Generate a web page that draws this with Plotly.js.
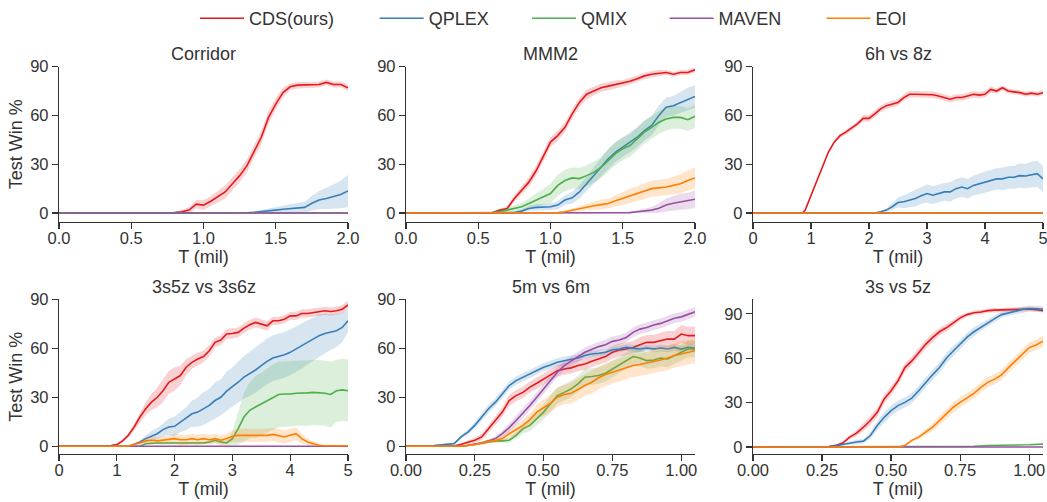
<!DOCTYPE html>
<html>
<head>
<meta charset="utf-8">
<script src="https://cdn.plot.ly/plotly-3.0.1.min.js"></script>
<style>html,body{margin:0;padding:0;background:#fff;}#chart{width:1047px;height:502px;}</style>
</head>
<body>
<div id="chart"></div>
<script>
// ---------------- DATA ----------------
const algNames = ['CDS(ours)', 'QPLEX', 'QMIX', 'MAVEN', 'EOI'];
const panelTitles = ['Corridor', 'MMM2', '6h vs 8z', '3s5z vs 3s6z', '5m vs 6m', '3s vs 5z'];
const yTickVals = [0, 30, 60, 90];

// Corridor
const corT = [0,0.1,0.2,0.3,0.4,0.5,0.6,0.7,0.75,0.8,0.85,0.9,0.95,1.0,1.05,1.1,1.15,1.2,1.25,1.3,1.35,1.4,1.45,1.5,1.55,1.6,1.65,1.7,1.75,1.8,1.85,1.9,1.95,2.0];
const corCDS = [0,0,0,0,0,0,0,0,0.1,0.3,0.8,1.8,5.5,4.9,7.3,10,13,18,23,29,37.5,46.6,58.8,67,74,77.6,78.6,78.6,78.6,79,80.3,79,79,77];
const corCDSsd = [0,0,0,0,0,0,0,0,0.2,0.5,1,2,2.5,3,3,3.5,4,4,4,4,4,4,4,3.5,3,2,2,1.8,1.8,1.8,1.8,1.8,1.8,1.8];
const corQPLEX = [0,0,0,0,0,0,0,0,0,0,0,0,0,0,0,0,0,0,0,0.2,0.5,0.8,1.3,1.8,2.3,2.8,3.2,3.5,6,8,9,10,11.4,13.6];
const corQPLEXsd = [0,0,0,0,0,0,0,0,0,0,0,0,0,0,0,0,0,0,0,0.3,0.6,1,1.5,2,2.4,2.6,3,3.5,4.5,5.6,6.5,7.5,8.5,9.8];
const corFlatT = [0, 2.0];
const corQMIX = [0, 0];
const corMAVEN = [0, 0];

// MMM2
const mmmT = [0,0.1,0.2,0.3,0.4,0.5,0.55,0.6,0.65,0.7,0.75,0.8,0.85,0.9,0.95,1.0,1.05,1.1,1.15,1.2,1.25,1.3,1.35,1.4,1.45,1.5,1.55,1.6,1.65,1.7,1.75,1.8,1.85,1.9,1.95,2.0];
const mmmCDS = [0,0,0,0,0,0,0,0.3,1.8,2.8,9,14,19,26,34.4,43.6,47.6,52.7,61,68,73,75,77,78,79,79.8,81,82.6,84.3,85.3,86,86.4,85.3,86.4,86.4,88];
const mmmCDSsd = [0,0,0,0,0,0,0,0.5,1,1.5,2,2.5,3,3,3,3,3,3,3,3,3,3,2.5,2.5,2.5,2,2,2,2,2,2,1.5,1.5,1.5,1.5,1.5];
const mmmQPLEX = [0,0,0,0,0,0,0,0,0,0,0.3,1.2,2.8,3.5,3.5,3.9,4.9,8,9.4,13,18,23,28,33.4,37.5,40.5,43.6,46.6,50.7,53.8,59.9,65,66,68,70,71.7];
const mmmQPLEXsd = [0,0,0,0,0,0,0,0,0,0,0.5,1,1.5,2,2,2,2.5,3,3.5,4,4.5,5,5.5,6,6,6,6,6,6,6,6,6,6,6.5,7,7];
const mmmQMIX = [0,0,0,0,0,0,0,0.3,0.8,1.8,2.8,3.9,5.9,8,10,12,17,20,21.6,21.2,23,25,28,32.4,36.5,39.5,41.5,45.6,49.7,52.7,55.8,57.8,58.8,58.8,57.4,59.5];
const mmmQMIXsd = [0,0,0,0,0,0,0,0.5,1,1.5,2,2.5,3,4,5,6,6.5,6.6,6.5,6.5,6.5,6.5,6.5,7,7,7,7,7,7,7,7,7,7,7,7,7];
const mmmMAVEN = [0,0,0,0,0,0,0,0,0,0,0,0,0,0,0,0,0,0,0,0,0,0,0,0,0,0,0.3,0.8,1.2,1.8,3,4.9,6,6.9,7.5,8.5];
const mmmMAVENsd = [0,0,0,0,0,0,0,0,0,0,0,0,0,0,0,0,0,0,0,0,0,0,0,0,0,0,0.5,1,1.5,2,3,4,4.5,5,5,5.5];
const mmmEOI = [0,0,0,0,0,0,0,0,0,0,0,0,0,0,0,0,0.3,0.8,1.8,2.8,3.7,4.5,5.2,5.9,7.5,9,10.5,12,13.5,15,15.5,16,17,18,20,21.6];
const mmmEOIsd = [0,0,0,0,0,0,0,0,0,0,0,0,0,0,0,0,0.3,0.5,1,1.5,2,2.5,3,3,3.5,4,4.5,4.5,5,5,5,5,5.5,6,6,6.5];

// 6h vs 8z
const h6T = [0,0.2,0.4,0.6,0.8,0.85,0.9,1.0,1.1,1.2,1.3,1.4,1.5,1.6,1.7,1.8,1.9,2.0,2.1,2.2,2.3,2.4,2.5,2.6,2.7,2.8,2.9,3.0,3.1,3.2,3.3,3.4,3.5,3.6,3.7,3.8,3.9,4.0,4.1,4.2,4.3,4.4,4.5,4.6,4.7,4.8,4.9,5.0];
const h6CDS = [0,0,0,0,0,0,1.8,11,19,28.3,37.5,43.6,47.6,49.7,52,54.8,58.2,58.2,61,64,66,67,68,71,73,73,73,73,72.7,72,71,70,71,71,72,73,72.5,73,76,75,77,75,74.5,74,73,73.7,73,74];
const h6CDSsd = [0,0,0,0,0,0,0.5,1,1,1,1,1,1.5,1.5,1.5,1.5,2,2,2,2,2,2,2,2,2,2,2,2,2,2,2,2,2,2,2,2,2,2,2,1.5,1.5,1.5,1.5,1.5,1.5,1.5,1.5,1.5];
const h6QPLEX = [0,0,0,0,0,0,0,0,0,0,0,0,0,0,0,0,0,0,0,0.8,1.8,3.9,6.5,6.9,8,9,10.6,12,11,12,13,13,15,16,15,17,18,19,20,21,21,22,22,23,22.8,23.6,24.2,21];
const h6QPLEXsd = [0,0,0,0,0,0,0,0,0,0,0,0,0,0,0,0,0,0,0,0.5,1,2,3,4,4.5,5,5,5.5,5.5,5.5,5.5,6,6,6,6,6,6.5,6.5,6.5,6.5,7,7,7,7.5,7.5,8,8,8];
const h6FlatT = [0, 5];
const h6QMIX = [0, 0];
const h6MAVEN = [0, 0];
const h6EOI = [0, 0];

// 3s5z vs 3s6z
const s5T = [0,0.2,0.4,0.6,0.8,0.9,1.0,1.1,1.2,1.3,1.4,1.5,1.6,1.7,1.8,1.9,2.0,2.1,2.2,2.3,2.4,2.5,2.6,2.7,2.8,2.9,3.0,3.1,3.2,3.3,3.4,3.5,3.6,3.7,3.8,3.9,4.0,4.1,4.2,4.3,4.4,4.5,4.6,4.7,4.8,4.9,5.0];
const s5CDS = [0,0,0,0,0.2,0.5,1,3.3,6.7,11.8,17.9,23,27,30,34,39.2,41.2,43.3,48.4,51.4,53.4,54.9,58.5,63.6,65,68.7,69,69.7,72.3,74.4,75.8,74.8,73.7,76.8,76.8,77.8,79.8,79.8,81.3,81.3,81.9,82.5,82.9,82.5,82.9,83.9,86.5];
const s5CDSsd = [0,0,0,0,0.2,0.3,0.5,1,1.5,2,3,4,5,6,7,7,7,6,5,4,4,3.5,3.5,3,3,3,3,3,3,3,3,3,3,2.5,2.5,2.5,2.5,2.5,2.5,2.5,2.5,2.5,2.5,2.5,2.5,2.5,2.5];
const s5QPLEX = [0,0,0,0,0,0,0,0,0,1.2,2.6,4.7,6.3,7.7,10.2,11.8,12.2,14.8,16.9,19.9,20.9,23,25,28,30,33.7,36.2,39.2,42.3,44.3,46.7,49.4,52,54,54.9,56,57.5,59.5,61.6,63.6,65.6,67.7,69,69.7,70.7,72.7,76.8];
const s5QPLEXsd = [0,0,0,0,0,0,0,0,0,0.5,1,2,3,3.5,4,5,6,6,7,8,9,10,10,11,11,12,12,12.5,13,13.5,14,14,14,14,14,14,14,14,14,13.5,13,13,12,11,10,9,7];
const s5QMIX = [0,0,0,0,0,0,0,0,0,0,0,1.6,2,2,2,2,2,2,2,2,2,2,2.6,3.7,2.6,2,4.7,10.8,17.9,22,24,26,28,30,31.7,32,32,32.5,32.5,32.7,33,32.7,32.5,31.7,34,34.5,34];
const s5QMIXsd = [0,0,0,0,0,0,0,0,0,0,0,0.5,1,1,1,1,1,1,1,1,1,1,1,1.5,1.5,1.5,4,10,15,17,19,19,19.5,20,20,20,20,20,20,20,20,20,20,20,19,19,19];
const s5MAVEN = [0, 0];
const s5FlatT = [0, 5];
const s5EOI = [0,0,0,0,0,0,0,0,0,1.2,2,3.3,3.7,3.3,3.7,4,4.7,4,4,4.7,4,4.7,4,4.7,3.7,4.7,6,6.7,6.7,6.7,6.3,6.7,6.7,7.3,6.7,5.7,6.7,7.7,4.7,2.6,1.6,0.6,0.3,0.3,0.3,0.3,0.3];
const s5EOIsd = [0,0,0,0,0,0,0,0,0,0.5,1,1.5,2,2,2.5,2.5,3,3,3,3,3,3,3,3,3,3,3.5,4,4,4,4,4,4,4,4,4,4,4,3,2,1.5,1,0.5,0.5,0.5,0.5,0.5];

// 5m vs 6m
const m5T = [0,0.05,0.1,0.125,0.15,0.175,0.2,0.225,0.25,0.275,0.3,0.325,0.35,0.375,0.4,0.425,0.45,0.475,0.5,0.525,0.55,0.575,0.6,0.625,0.65,0.675,0.7,0.725,0.75,0.775,0.8,0.825,0.85,0.875,0.9,0.925,0.95,0.975,1.0,1.025,1.05];
const m5CDS = [0,0,0,0,0,0.2,1.2,2.6,3.7,5.7,10.8,15.8,20.9,28,31,33,36.2,38.6,41.2,43.9,46.3,47.3,48,49.4,50.4,52,53.4,54.9,57.5,58.9,59.5,60.5,62.2,63.6,63.6,64.6,65.6,65.6,68.7,67.7,67.7];
const m5CDSsd = [0,0,0,0,0,0.3,0.5,1,1.5,2,2.5,3,3,3.5,3.5,3.5,3.5,3.5,3.5,3.5,3.5,3.5,3.5,3.5,3.5,3.5,3.5,3.5,4,4,4,4,4.5,4.5,4.5,5,5,5,5.5,5.5,5.5];
const m5QPLEXT = [0.1,0.125,0.15,0.175,0.2,0.225,0.25,0.275,0.3,0.325,0.35,0.375,0.4,0.425,0.45,0.475,0.5,0.525,0.55,0.575,0.6,0.625,0.65,0.675,0.7,0.725,0.75,0.775,0.8,0.825,0.85,0.875,0.9,0.925,0.95,0.975,1.0,1.025,1.05];
const m5QPLEX = [0.5,0.8,1.2,1.6,5.7,8.7,12.8,17.9,23,27,32,37.2,40.2,42.3,44.3,46.3,48.4,49.8,51.4,52.4,53.4,54,55.5,56.5,56.9,57.5,59.1,59.5,60.5,60.1,59.5,60.1,59.5,60.1,59.5,60.5,59.5,60.5,60.1];
const m5QPLEXsd = [0.2,0.3,0.5,0.5,1,1.5,2,2,2.5,2.5,2.5,2.5,2.5,2.5,2.5,2.5,2.5,2.5,2.5,2.5,2,2,2,2,2,2,2,2,2,2,2,2,2,2,2,2,2,2,2];
const m5QMIX = [0,0,0,0,0,0,0,0.5,1.2,2,3,3.3,3.3,3.7,6.7,10.8,12.8,16.9,20.9,26,31,33,35.1,38.2,42.3,42.7,43.3,44.7,47.3,49.4,52,54.9,54,52.4,52.8,54,53.4,55.5,57.5,59.5,59.5];
const m5QMIXsd = [0,0,0,0,0,0,0,0.3,0.5,1,1,1,1,1.5,2,3,3.5,4,4.5,5,5,5,5,5,5,5,5,5,5,5,5,5,5,5,5,5,5,5,5,5,5];
const m5MAVEN = [0,0,0,0,0,0,0,0.6,1.2,2,3.3,4.7,7.7,11.4,15.8,20.3,25,30,35.1,40.2,45.3,49.4,52.4,54.9,57.5,59.5,61,62.2,64.2,65,66.6,69.7,71.7,72.7,74.2,75.2,76.8,78.4,79.2,80.9,82.3];
const m5MAVENsd = [0,0,0,0,0,0,0,0.3,0.5,0.8,1,1.5,2,2.5,3,3,3,3,3,3,3,3,3,3,3,3,3,3,3,3,3,3,3,3,3,3,3,3,3,3,3];
const m5EOI = [0,0,0,0,0,0,0,0.5,1,2,3,3.5,4.7,7.7,10.2,12.8,16.3,20.9,23.6,26.4,30,31.7,32.5,35.1,37.2,39.2,41.9,43.9,45.3,46.7,48.4,49.4,50,50.8,52,52.8,54,55.5,56.5,57.5,58.5];
const m5EOIsd = [0,0,0,0,0,0,0,0.3,0.5,1,1,1.5,2,2.5,3,3.5,4,4.5,5,5.5,6,6,6.5,6.5,6.5,7,7,7,7,7,7,7,7,7,7.5,7.5,7.5,7.5,7.5,7.5,7.5];

// 3s vs 5z
const z5T = [0,0.1,0.2,0.25,0.275,0.3,0.325,0.35,0.375,0.4,0.425,0.45,0.475,0.5,0.525,0.55,0.575,0.6,0.625,0.65,0.675,0.7,0.725,0.75,0.775,0.8,0.825,0.85,0.875,0.9,0.925,0.95,0.975,1.0,1.025,1.05];
const z5CDS = [0,0,0,0,0.3,1.1,2.7,6.7,9.4,13.4,17.9,23.5,32.5,38,44.8,53.7,58.2,63.8,69.4,73.9,77.9,80.6,83.9,87.3,89.5,90.7,91.3,92.2,92.5,92.7,92.9,93.1,93.3,93.3,92.9,92.2];
const z5CDSsd = [0,0,0,0,0.3,0.5,1,1.5,2,2.5,3,3,3,3,3,3,3,3,3,3,2.5,2.5,2,2,1.5,1.5,1.5,1.5,1.5,1.5,1.5,1.5,1.5,1.5,1.5,1.5];
const z5QPLEX = [0,0,0,0,0.3,0.9,1.8,2.7,3.4,4,7.8,14.5,20.1,24.6,28,30.2,33.1,38,43.7,48.8,53.7,60,64.9,69.4,74.3,77.9,81,83.9,86.8,89.5,90.7,91.8,92.9,93.6,93.6,93.3];
const z5QPLEXsd = [0,0,0,0,0.3,0.5,0.8,1,1.5,1.5,2,3,3.5,3.5,3.5,3.5,3.5,3.5,3.5,3.5,3.5,3.5,3.5,3,3,3,2.5,2.5,2.5,2,2,2,2,2,2,2];
const z5QMIXT = [0,0.75,0.8,0.85,0.9,0.95,1.0,1.05];
const z5QMIX = [0,0,0.5,1,1,1.2,1.5,2];
const z5FlatT = [0, 1.05];
const z5MAVEN = [0, 0];
const z5EOI = [0,0,0,0,0,0,0,0,0,0,0,0,0,0,0,1.1,4.5,6.7,10,13.4,17.9,22.4,26.9,30.2,33.1,36.3,40.3,43.7,45.9,48.8,53.7,58.2,62.7,67.2,69,71.6];
const z5EOIsd = [0,0,0,0,0,0,0,0,0,0,0,0,0,0,0,0.5,1,1.5,2,2.5,3,3,3.5,3.5,3.5,3.5,3.5,3.5,3.5,3.5,3.5,3.5,3.5,3.5,3.5,4];

// ---------------- STYLE ----------------
const colors = {'CDS(ours)':'#e41a1c', 'QPLEX':'#377eb8', 'QMIX':'#4daf4a', 'MAVEN':'#984ea3', 'EOI':'#ff7f00'};
const bands = {'CDS(ours)':'rgba(228,26,28,0.2)', 'QPLEX':'rgba(55,126,184,0.2)', 'QMIX':'rgba(77,175,74,0.2)', 'MAVEN':'rgba(152,78,163,0.2)', 'EOI':'rgba(255,127,0,0.2)'};
const legendIds = {'CDS(ours)':'legend', 'QPLEX':'legend2', 'QMIX':'legend3', 'MAVEN':'legend4', 'EOI':'legend5'};
const FONT = 'Liberation Sans, Arial, Helvetica, sans-serif';
const TXT = '#333333';

const traces = [];
function addSeries(panel, name, xs, mean, sd, showLegend) {
  const xa = panel === 1 ? 'x' : 'x' + panel;
  const ya = panel === 1 ? 'y' : 'y' + panel;
  if (sd) {
    const up = mean.map((v, i) => v + sd[i]);
    const lo = mean.map((v, i) => v - sd[i]);
    traces.push({x: xs, y: up, xaxis: xa, yaxis: ya, mode: 'lines', line: {width: 0, color: bands[name]}, showlegend: false, hoverinfo: 'skip'});
    traces.push({x: xs, y: lo, xaxis: xa, yaxis: ya, mode: 'lines', line: {width: 0, color: bands[name]}, fill: 'tonexty', fillcolor: bands[name], showlegend: false, hoverinfo: 'skip'});
  }
  traces.push({x: xs, y: mean, xaxis: xa, yaxis: ya, mode: 'lines', name: name,
    line: {color: colors[name], width: 1.6}, showlegend: !!showLegend, legend: legendIds[name]});
}

// Corridor
addSeries(1, 'CDS(ours)', corT, corCDS, corCDSsd);
addSeries(1, 'QPLEX', corT, corQPLEX, corQPLEXsd);
addSeries(1, 'QMIX', corFlatT, corQMIX, null);
addSeries(1, 'MAVEN', corFlatT, corMAVEN, null);
// MMM2 (legend entries come from here)
addSeries(2, 'CDS(ours)', mmmT, mmmCDS, mmmCDSsd, true);
addSeries(2, 'QPLEX', mmmT, mmmQPLEX, mmmQPLEXsd, true);
addSeries(2, 'QMIX', mmmT, mmmQMIX, mmmQMIXsd, true);
addSeries(2, 'MAVEN', mmmT, mmmMAVEN, mmmMAVENsd, true);
addSeries(2, 'EOI', mmmT, mmmEOI, mmmEOIsd, true);
// 6h vs 8z
addSeries(3, 'CDS(ours)', h6T, h6CDS, h6CDSsd);
addSeries(3, 'QPLEX', h6T, h6QPLEX, h6QPLEXsd);
addSeries(3, 'QMIX', h6FlatT, h6QMIX, null);
addSeries(3, 'MAVEN', h6FlatT, h6MAVEN, null);
addSeries(3, 'EOI', h6FlatT, h6EOI, null);
// 3s5z vs 3s6z
addSeries(4, 'CDS(ours)', s5T, s5CDS, s5CDSsd);
addSeries(4, 'QPLEX', s5T, s5QPLEX, s5QPLEXsd);
addSeries(4, 'QMIX', s5T, s5QMIX, s5QMIXsd);
addSeries(4, 'MAVEN', s5FlatT, s5MAVEN, null);
addSeries(4, 'EOI', s5T, s5EOI, s5EOIsd);
// 5m vs 6m
addSeries(5, 'CDS(ours)', m5T, m5CDS, m5CDSsd);
addSeries(5, 'QPLEX', m5QPLEXT, m5QPLEX, m5QPLEXsd);
addSeries(5, 'QMIX', m5T, m5QMIX, m5QMIXsd);
addSeries(5, 'MAVEN', m5T, m5MAVEN, m5MAVENsd);
addSeries(5, 'EOI', m5T, m5EOI, m5EOIsd);
// 3s vs 5z
addSeries(6, 'CDS(ours)', z5T, z5CDS, z5CDSsd);
addSeries(6, 'QPLEX', z5T, z5QPLEX, z5QPLEXsd);
addSeries(6, 'QMIX', z5QMIXT, z5QMIX, null);
addSeries(6, 'MAVEN', z5FlatT, z5MAVEN, null);
addSeries(6, 'EOI', z5T, z5EOI, z5EOIsd);

// ---------------- LAYOUT ----------------
const W = 1047, H = 502;
const colDom = [[59/W, 348/W], [406/W, 695/W], [753/W, 1043/W]];
const rowDom = [[1 - 220/H, 1 - 64/H], [1 - 454/H, 1 - 298/H]];

function xAxis(col, row, range, dtick, fmt, anchor) {
  return {domain: colDom[col], range: range, anchor: anchor, showline: true, linecolor: TXT, linewidth: 1.2,
    ticks: 'outside', ticklen: 6, tickwidth: 1.2, tickcolor: TXT, tick0: 0, dtick: dtick, tickformat: fmt,
    ticklabelstandoff: -5, ticklabeloverflow: 'allow',
    showgrid: false, zeroline: false, tickfont: {family: FONT, size: 16.5, color: TXT},
    title: {text: 'T (mil)', font: {family: FONT, size: 18, color: TXT}, standoff: 0}, automargin: false, fixedrange: true};
}
function yAxis(col, row, range, anchor, withTitle) {
  return {domain: rowDom[row], range: range, anchor: anchor, showline: true, linecolor: TXT, linewidth: 1.2,
    ticks: 'outside', ticklen: 6, tickwidth: 1.2, tickcolor: TXT, tickvals: yTickVals,
    showgrid: false, zeroline: false, tickfont: {family: FONT, size: 16.5, color: TXT},
    title: withTitle ? {text: 'Test Win %', font: {family: FONT, size: 18, color: TXT}, standoff: 2} : {text: ''},
    automargin: false, fixedrange: true};
}

const titleX = colDom.map(d => (d[0] + d[1]) / 2);
const titleY = [1 - 51/H, 1 - 286/H];
const annotations = panelTitles.map((t, i) => ({
  text: t, xref: 'paper', yref: 'paper', x: titleX[i % 3], y: titleY[Math.floor(i / 3)],
  xanchor: 'center', yanchor: 'middle', showarrow: false, font: {family: FONT, size: 18, color: TXT}
}));

const legendStart = [200, 379.7, 532, 669.6, 826.5];
function legendAt(px) {
  return {x: (px - 5) / W, y: 1 + 3/H, xanchor: 'left', yanchor: 'top', orientation: 'h',
    font: {family: FONT, size: 18, color: TXT}, bgcolor: 'rgba(0,0,0,0)', borderwidth: 0, itemwidth: 44};
}

const layout = {
  width: W, height: H, margin: {l: 0, r: 0, t: 0, b: 0}, paper_bgcolor: '#ffffff', plot_bgcolor: '#ffffff',
  font: {family: FONT, color: TXT},
  showlegend: true,
  legend: legendAt(legendStart[0]), legend2: legendAt(legendStart[1]), legend3: legendAt(legendStart[2]),
  legend4: legendAt(legendStart[3]), legend5: legendAt(legendStart[4]),
  xaxis: xAxis(0, 0, [0, 2.0], 0.5, '.1f', 'y'),
  yaxis: yAxis(0, 0, [-5.3, 90], 'x', true),
  xaxis2: xAxis(1, 0, [0, 2.0], 0.5, '.1f', 'y2'),
  yaxis2: yAxis(1, 0, [-5.3, 90], 'x2', false),
  xaxis3: xAxis(2, 0, [0, 5], 1, 'd', 'y3'),
  yaxis3: yAxis(2, 0, [-5.3, 90], 'x3', false),
  xaxis4: xAxis(0, 1, [0, 5], 1, 'd', 'y4'),
  yaxis4: yAxis(0, 1, [-4.9, 90], 'x4', true),
  xaxis5: xAxis(1, 1, [0, 1.05], 0.25, '.2f', 'y5'),
  yaxis5: yAxis(1, 1, [-4.9, 90], 'x5', false),
  xaxis6: xAxis(2, 1, [0, 1.05], 0.25, '.2f', 'y6'),
  yaxis6: yAxis(2, 1, [-4.9, 99.9], 'x6', false),
  annotations: annotations
};

Plotly.newPlot('chart', traces, layout, {displayModeBar: false, staticPlot: true});
</script>
</body>
</html>
